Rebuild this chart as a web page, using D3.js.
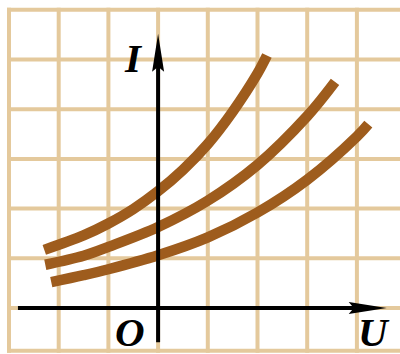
<!doctype html>
<html lang="en">
  <head>
    <meta charset="UTF-8" />
    <title>I-U curves</title>
    <script src="https://d3js.org/d3.v7.min.js"></script>
    <style>
      body {
        margin: 0;
        background: #fff;
      }
      .grid line {
        stroke: #e4c99c;
        stroke-width: 4;
      }
      .axis-line {
        stroke: #000;
        stroke-width: 4;
      }
      .curve {
        fill: none;
        stroke: #9e5c1d;
        stroke-width: 10.5;
      }
      .label {
        font-family: 'Liberation Serif', 'Times New Roman', serif;
        font-style: italic;
        font-weight: bold;
        font-size: 41px;
        fill: #000;
      }
    </style>
  </head>
  <body>
    <svg id="chart"></svg>
    <script>
      const width = 400
      const height = 354

      // grid ticks (one cell = one unit)
      const xTicks = [-3, -2, -1, 0, 1, 2, 3, 4, 5]
      const yTicks = [0, 1, 2, 3, 4, 5, 6]

      // three I-U curves, [U, I] in grid units
      const curveTop = [[-2.29, 1.17], [-1.5, 1.46], [-1, 1.7], [-0.5, 1.99], [0, 2.35], [0.5, 2.78], [1, 3.3], [1.5, 3.95], [2, 4.72], [2.19, 5.08]]
      const curveMid = [[-2.27, 0.87], [-1.5, 1.05], [-1, 1.23], [0, 1.63], [1, 2.16], [2, 2.88], [3, 3.86], [3.56, 4.55]]
      const curveLow = [[-2.15, 0.52], [-1.5, 0.66], [-1, 0.78], [0, 1.06], [1, 1.42], [2, 1.92], [3, 2.58], [4, 3.45], [4.23, 3.7]]

      const svg = d3.select('#chart').attr('width', width).attr('height', height)

      const x = d3.scaleLinear().domain([-3, 5]).range([9, 406.6])
      const y = d3.scaleLinear().domain([-1, 6]).range([357.7, 9.8])

      // grid
      const grid = svg.append('g').attr('class', 'grid')
      grid
        .selectAll('.v')
        .data(xTicks)
        .enter()
        .append('line')
        .attr('x1', (d) => x(d))
        .attr('x2', (d) => x(d))
        .attr('y1', y(6) - 2)
        .attr('y2', y(-0.86) + 2)
      grid
        .selectAll('.h')
        .data(yTicks.concat([-0.86]))
        .enter()
        .append('line')
        .attr('x1', x(-3) - 2)
        .attr('x2', width)
        .attr('y1', (d) => y(d))
        .attr('y2', (d) => y(d))

      // curves
      const line = d3
        .line()
        .x((d) => x(d[0]))
        .y((d) => y(d[1]))
        .curve(d3.curveCatmullRom.alpha(0.5))

      svg
        .selectAll('.curve')
        .data([curveTop, curveMid, curveLow])
        .enter()
        .append('path')
        .attr('class', 'curve')
        .attr('d', line)

      // axes
      svg
        .append('line')
        .attr('class', 'axis-line')
        .attr('x1', x(-2.82))
        .attr('x2', x(4.3))
        .attr('y1', y(0))
        .attr('y2', y(0))
      svg
        .append('line')
        .attr('class', 'axis-line')
        .attr('x1', x(0))
        .attr('x2', x(0))
        .attr('y1', y(-0.69))
        .attr('y2', y(5.1))

      // arrow heads
      const arrow = 'M0,0 L-38,-6 L-33,0 L-38,6 Z'
      svg
        .append('path')
        .attr('d', arrow)
        .attr('transform', `translate(${x(4.6)},${y(0)})`)
      svg
        .append('path')
        .attr('d', arrow)
        .attr('transform', `translate(${x(0)},${y(5.52)}) rotate(-90)`)

      // labels
      svg.append('text').attr('class', 'label').attr('x', x(0) - 33).attr('y', 72).text('I')
      svg.append('text').attr('class', 'label').attr('x', x(0) - 43).attr('y', 346).text('O')
      svg.append('text').attr('class', 'label').attr('x', 358).attr('y', 346).text('U')
    </script>
  </body>
</html>
